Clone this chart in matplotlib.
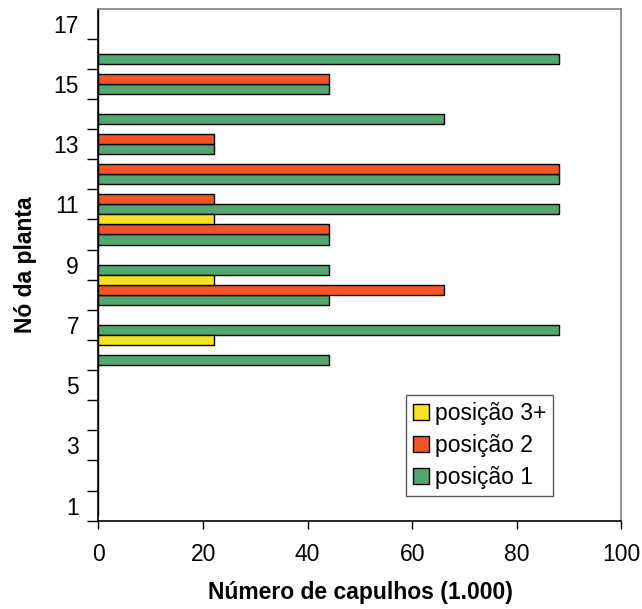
import numpy as np
import matplotlib
matplotlib.use('Agg')
from matplotlib import pyplot as plt

plt.rcParams['font.family'] = ['Liberation Sans', 'DejaVu Sans']

nodes = list(range(1, 18))
# numero de capulhos (1.000) por no, 0 = sem barra
pos1 = [0, 0, 0, 0, 0, 44, 88, 44, 44, 44, 88, 88, 22, 66, 44, 88, 0]
pos2 = [0, 0, 0, 0, 0, 0, 0, 66, 0, 44, 22, 88, 22, 0, 44, 0, 0]
pos3 = [0, 0, 0, 0, 0, 22, 0, 22, 0, 22, 0, 0, 0, 0, 0, 0, 0]
yticklabels = [str(n) if n % 2 == 1 else '' for n in nodes]

green = '#53a66e'
red = '#f25427'
yellow = '#f7e326'

fig = plt.figure(figsize=(6.42, 6.09), dpi=100)
ax = fig.add_axes([0.1534, 0.145, 0.8146, 0.841])

y = np.array(nodes, dtype=float)
h = 1 / 3
ax.barh(y - h, pos1, height=h, color=green, edgecolor='black', linewidth=1,
        label='posição 1')
ax.barh(y, pos2, height=h, color=red, edgecolor='black', linewidth=1,
        label='posição 2')
ax.barh(y + h, pos3, height=h, color=yellow, edgecolor='black', linewidth=1,
        label='posição 3+')

ax.set_xlim(0, 100)
ax.set_ylim(0.5 - h / 2, 17.5 - h / 2)
ax.set_xticks([0, 20, 40, 60, 80, 100])
# ticks on category borders, labels on odd nodes
ax.set_yticks(np.arange(0.5, 17.5, 1) - h / 2)
ax.set_yticklabels([])
ax.set_yticks(y - h / 2, minor=True)
ax.set_yticklabels(yticklabels, minor=True)
ax.tick_params(axis='y', which='minor', length=0, labelsize=16.5, pad=14)
ax.tick_params(axis='y', which='major', length=8, width=1)
ax.tick_params(axis='x', length=6, width=1, labelsize=16.5, pad=10)

for s in ['top', 'right']:
    ax.spines[s].set_color('#808080')
    ax.spines[s].set_linewidth(1.2)
for s in ['left', 'bottom']:
    ax.spines[s].set_linewidth(1.2)

ax.set_xlabel('Número de capulhos (1.000)', fontsize=16.5, fontweight='bold',
              labelpad=11)
ax.set_ylabel('Nó da planta', fontsize=16.5, fontweight='bold', labelpad=12)

handles, labels = ax.get_legend_handles_labels()
leg = ax.legend(handles[::-1], labels[::-1], loc='upper left',
                bbox_to_anchor=(0.588, 0.245), fontsize=16.5, frameon=True,
                fancybox=False, edgecolor='#303030', handlelength=0.7,
                handleheight=0.7, handletextpad=0.25, labelspacing=0.4,
                borderpad=0.3, borderaxespad=0)
leg.get_frame().set_linewidth(1)

fig.savefig('out.png', dpi=100)
